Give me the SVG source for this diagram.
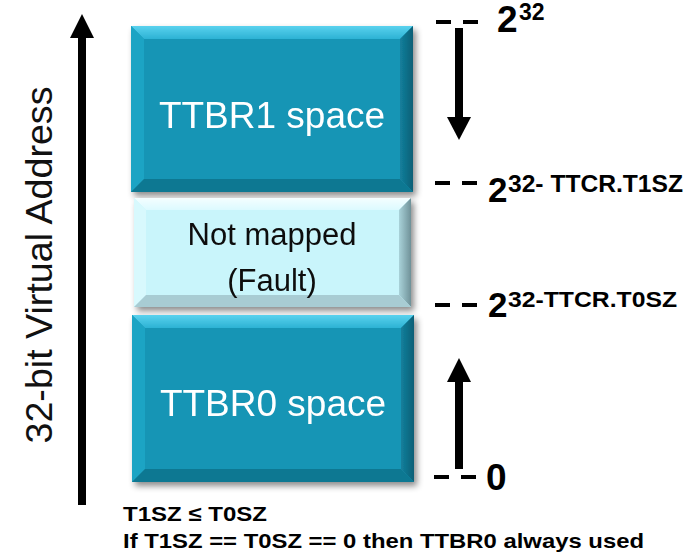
<svg xmlns="http://www.w3.org/2000/svg" width="697" height="557" viewBox="0 0 697 557">
  <defs>
    <filter id="shadow" x="-10%" y="-10%" width="125%" height="130%">
      <feDropShadow dx="3" dy="4" stdDeviation="3" flood-color="#000" flood-opacity="0.45"/>
    </filter>
    <linearGradient id="tealTop" x1="0" y1="0" x2="0" y2="1">
      <stop offset="0" stop-color="#5ad2ee"/>
      <stop offset="1" stop-color="#2cb2d4"/>
    </linearGradient>
    <linearGradient id="tealRight" x1="1" y1="0" x2="0" y2="0">
      <stop offset="0" stop-color="#0b5f76"/>
      <stop offset="1" stop-color="#137f9c"/>
    </linearGradient>
    <linearGradient id="paleTop" x1="0" y1="0" x2="0" y2="1">
      <stop offset="0" stop-color="#f4feff"/>
      <stop offset="1" stop-color="#dcfaff"/>
    </linearGradient>
    <linearGradient id="paleRight" x1="1" y1="0" x2="0" y2="0">
      <stop offset="0" stop-color="#6f9198"/>
      <stop offset="1" stop-color="#a9d2d9"/>
    </linearGradient>
  </defs>
  <style>
    .teal-face { fill: #1795b5; }
    .teal-top { fill: url(#tealTop); }
    .teal-left { fill: #1ea4c4; }
    .teal-right { fill: url(#tealRight); }
    .teal-bottom { fill: #107892; }
    .pale-face { fill: #c9f5fb; }
    .pale-top { fill: url(#paleTop); }
    .pale-left { fill: #d8f9fd; }
    .pale-right { fill: url(#paleRight); }
    .pale-bottom { fill: #a8ccd3; }
    .box-label { font-family: "Liberation Sans", Arial, sans-serif; text-anchor: middle; }
    .white { fill: #ffffff; font-size: 37px; }
    .dark { fill: #111111; font-size: 31px; }
    .tick { stroke: #000; stroke-width: 4; stroke-dasharray: 15 12; fill: none; }
    .arrow { fill: #000; }
    .bold { font-family: "Liberation Sans", Arial, sans-serif; font-weight: bold; fill: #000; }
    .axis-label { font-family: "Liberation Sans", Arial, sans-serif; font-size: 37px; fill: #111; text-anchor: middle; }
  </style>

  <!-- TTBR1 region (upper addresses) -->
  <g id="ttbr1" filter="url(#shadow)">
    <rect class="teal-face" x="131" y="26" width="282" height="166"/>
    <polygon class="teal-top" points="131,26 413,26 400,39 144,39"/>
    <polygon class="teal-left" points="131,26 144,39 144,179 131,192"/>
    <polygon class="teal-right" points="413,26 413,192 400,179 400,39"/>
    <polygon class="teal-bottom" points="131,192 144,179 400,179 413,192"/>
    <text class="box-label white" x="272" y="128">TTBR1 space</text>
  </g>

  <!-- Unmapped gap between the two regions -->
  <g id="not-mapped" filter="url(#shadow)">
    <rect class="pale-face" x="134" y="198" width="277" height="109"/>
    <polygon class="pale-top" points="134,198 411,198 399,210 146,210"/>
    <polygon class="pale-left" points="134,198 146,210 146,295 134,307"/>
    <polygon class="pale-right" points="411,198 411,307 399,295 399,210"/>
    <polygon class="pale-bottom" points="134,307 146,295 399,295 411,307"/>
    <text class="box-label dark" x="272" y="245">Not mapped</text>
    <text class="box-label dark" x="272" y="291">(Fault)</text>
  </g>

  <!-- TTBR0 region (lower addresses) -->
  <g id="ttbr0" filter="url(#shadow)">
    <rect class="teal-face" x="132" y="315" width="282" height="167"/>
    <polygon class="teal-top" points="132,315 414,315 401,328 145,328"/>
    <polygon class="teal-left" points="132,315 145,328 145,469 132,482"/>
    <polygon class="teal-right" points="414,315 414,482 401,469 401,328"/>
    <polygon class="teal-bottom" points="132,482 145,469 401,469 414,482"/>
    <text class="box-label white" x="273" y="416">TTBR0 space</text>
  </g>

  <!-- Arrows: address axis and growth directions -->
  <g id="connectors">
    <g id="axis-arrow">
      <rect class="arrow" x="78" y="36" width="8" height="469"/>
      <polygon class="arrow" points="82,14 94,38 70,38"/>
    </g>
    <g id="down-arrow">
      <rect class="arrow" x="455" y="28" width="8" height="91"/>
      <polygon class="arrow" points="447,117 471,117 459,140"/>
    </g>
    <g id="up-arrow">
      <rect class="arrow" x="455" y="380" width="8" height="89"/>
      <polygon class="arrow" points="459,358 471,382 447,382"/>
    </g>
  </g>

  <!-- Boundary ticks -->
  <g id="ticks">
    <line class="tick" x1="436" y1="22" x2="479" y2="22"/>
    <line class="tick" x1="435" y1="183" x2="478" y2="183"/>
    <line class="tick" x1="435" y1="305" x2="478" y2="305"/>
    <line class="tick" x1="434" y1="477" x2="477" y2="477"/>
  </g>

  <!-- Boundary labels -->
  <g id="boundary-labels">
    <text class="bold" x="497" y="32" font-size="37">2<tspan x="519" y="20" font-size="23">32</tspan></text>
    <text class="bold" x="488" y="202" font-size="35">2<tspan x="508" y="192" font-size="23" textLength="175" lengthAdjust="spacingAndGlyphs">32- TTCR.T1SZ</tspan></text>
    <text class="bold" x="488" y="317" font-size="35">2<tspan x="508" y="307" font-size="22" textLength="169" lengthAdjust="spacingAndGlyphs">32-TTCR.T0SZ</tspan></text>
    <text class="bold" x="486" y="490" font-size="37">0</text>
  </g>

  <!-- Axis caption -->
  <text class="axis-label" transform="translate(52,265) rotate(-90)" textLength="357" lengthAdjust="spacingAndGlyphs">32-bit Virtual Address</text>

  <!-- Notes -->
  <g id="notes">
    <text class="bold" x="123" y="521" font-size="21" textLength="144" lengthAdjust="spacingAndGlyphs">T1SZ ≤ T0SZ</text>
    <text class="bold" x="123" y="548" font-size="21" textLength="521" lengthAdjust="spacingAndGlyphs">If T1SZ == T0SZ == 0 then TTBR0 always used</text>
  </g>
</svg>
